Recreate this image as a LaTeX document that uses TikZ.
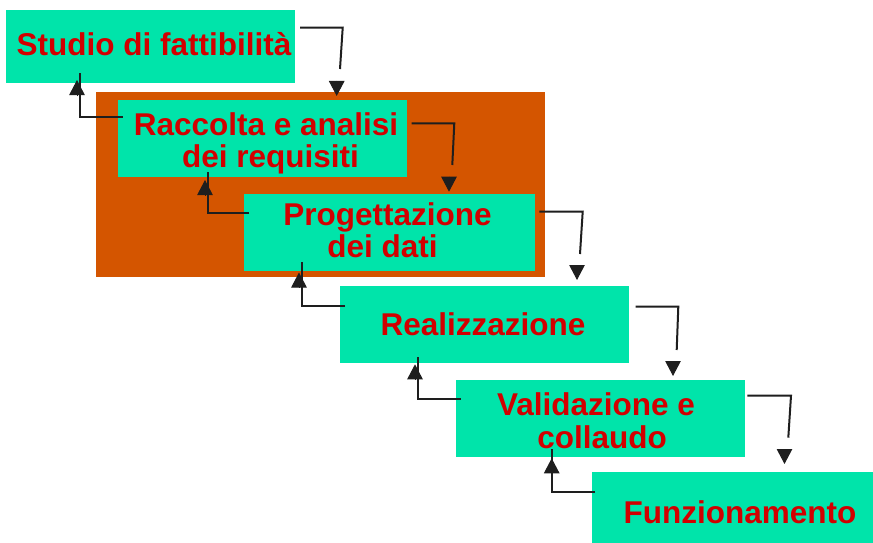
\documentclass[tikz,border=0pt]{standalone}
\usepackage{fontspec}
\setmainfont{Liberation Sans}
\usetikzlibrary{arrows.meta,calc}
\definecolor{boxcyan}{RGB}{0,228,170}
\definecolor{txtred}{RGB}{210,0,0}
\definecolor{orng}{RGB}{212,85,0}
\definecolor{conncol}{RGB}{30,30,30}
\begin{document}
\begin{tikzpicture}[x=1pt,y=-1pt,
  box/.style={rectangle, fill=boxcyan, inner sep=0pt, outer sep=0pt},
  lbl/.style={anchor=base, inner sep=0pt, outer sep=0pt, text=txtred, font=\fontsize{31.5}{32}\selectfont\bfseries},
  conn/.style={draw=conncol, line width=2pt, line join=miter},
  tiparrow/.style={draw=conncol, fill=conncol, line width=1pt, -{Triangle[length=15pt,width=15.5pt]}}]
\useasboundingbox (0,0) rectangle (873,543);
\fill[white] (0,0) rectangle (873,543);
% orange group
\node[rectangle, fill=orng, inner sep=0pt, minimum width=448.7pt, minimum height=185pt] (grp) at (320.3,184.5) {};
% boxes
\node[box, minimum width=289pt, minimum height=73pt] (s1) at (150.5,46.5) {};
\node[box, minimum width=289pt, minimum height=77pt] (r2) at (262.5,138.5) {};
\node[box, minimum width=291pt, minimum height=77pt] (p3) at (389.5,232.5) {};
\node[box, minimum width=289pt, minimum height=77pt] (e4) at (484.5,324.5) {};
\node[box, minimum width=289pt, minimum height=77pt] (v5) at (600.5,418.5) {};
\node[box, minimum width=281pt, minimum height=71pt] (f6) at (732.5,507.5) {};
% labels
\node[lbl] (t1) at (154,55.5) {Studio di fattibilità};
\node[lbl] (t2a) at (266,135) {Raccolta e analisi};
\node[lbl] (t2b) at (270.5,167) {dei requisiti};
\node[lbl] (t3a) at (387.5,225) {Progettazione};
\node[lbl] (t3b) at (382.5,257.3) {dei dati};
\node[lbl] (t4) at (483,335) {Realizzazione};
\node[lbl] (t5a) at (596,415) {Validazione e};
\node[lbl] (t5b) at (602,448.3) {collaudo};
\node[lbl] (t6) at (740,523.3) {Funzionamento};
% arrow tip points
\coordinate (h1) at (336.7,96);
\coordinate (g1) at (77,80);
\coordinate (h2) at (449,191.7);
\coordinate (g2) at (205,180);
\coordinate (h3) at (577,280);
\coordinate (g3) at (299,272.5);
\coordinate (h4) at (673,376);
\coordinate (g4) at (415,364.3);
\coordinate (h5) at (784.5,464);
\coordinate (g5) at (551.7,458.3);
% forward connectors
\draw[conn] ($(s1.north east)+(5,17.7)$) -- ++(42.7,0) -- ++(-2.7,41.3);
\draw[tiparrow] ($(h1)+(0,-15)$) -- (h1);
\draw[conn] ($(r2.north east)+(4.7,23.3)$) -- ++(42.6,0) -- ++(-2,41.7);
\draw[tiparrow] ($(h2)+(0,-15)$) -- (h2);
\draw[conn] ($(p3.north east)+(4.3,17.7)$) -- ++(43.4,0) -- ++(-2.7,42.3);
\draw[tiparrow] ($(h3)+(0,-15)$) -- (h3);
\draw[conn] ($(e4.north east)+(6.7,20.7)$) -- ++(42.6,0) -- ++(-1.6,43.3);
\draw[tiparrow] ($(h4)+(0,-15)$) -- (h4);
\draw[conn] ($(v5.north east)+(2.3,15.7)$) -- ++(43.7,0) -- ++(-2.7,42);
\draw[tiparrow] ($(h5)+(0,-15)$) -- (h5);
% backward connectors
\draw[conn] ($(r2.north west)+(4.7,17.3)$) -- ++(-42.7,0) -- ++(0,-44.6);
\draw[tiparrow] ($(g1)+(0,16)$) -- (g1);
\draw[conn] ($(p3.north west)+(5.3,19.3)$) -- ++(-41,0) -- ++(0,-41.6);
\draw[tiparrow] ($(g2)+(0,15)$) -- (g2);
\draw[conn] ($(e4.north west)+(5,19.7)$) -- ++(-43.3,0) -- ++(0,-43.4);
\draw[tiparrow] ($(g3)+(0,15)$) -- (g3);
\draw[conn] ($(v5.north west)+(4.7,19)$) -- ++(-42.4,0) -- ++(0,-42);
\draw[tiparrow] ($(g4)+(0,15)$) -- (g4);
\draw[conn] ($(f6.north west)+(3,19.7)$) -- ++(-42.7,0) -- ++(0,-42.4);
\draw[tiparrow] ($(g5)+(0,15)$) -- (g5);
\end{tikzpicture}
\end{document}
